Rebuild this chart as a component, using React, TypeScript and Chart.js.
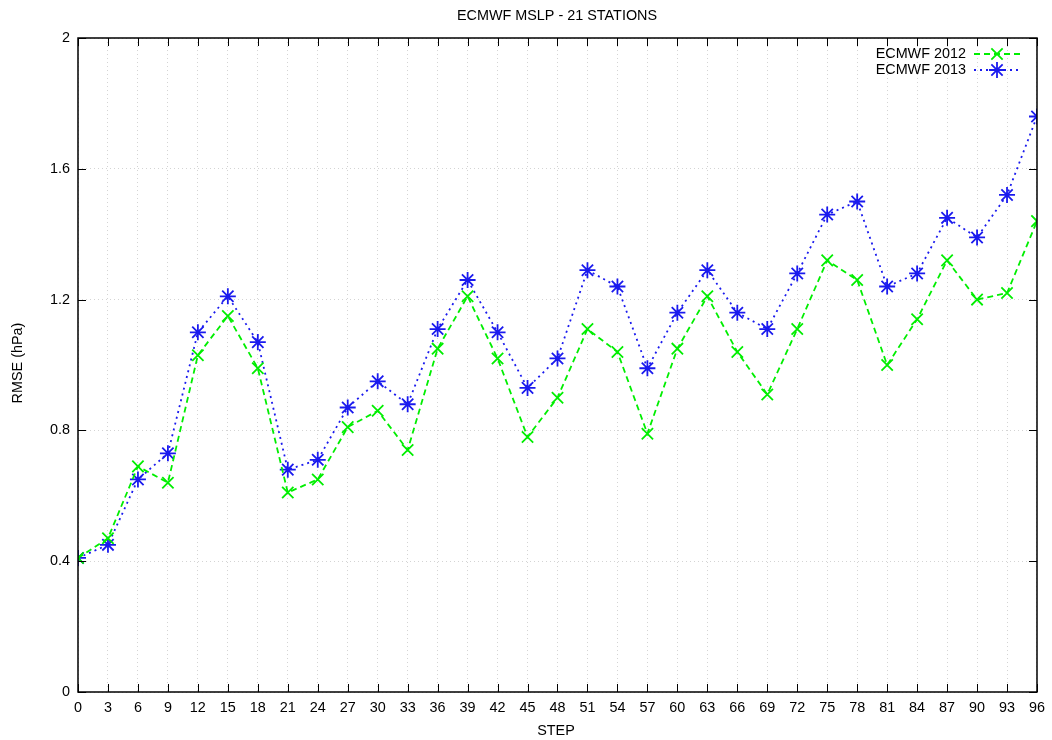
import React, { useEffect, useRef } from "react";
import { Chart, registerables } from "chart.js";

Chart.register(...registerables);

const steps = [0, 3, 6, 9, 12, 15, 18, 21, 24, 27, 30, 33, 36, 39, 42, 45, 48, 51, 54, 57, 60, 63, 66, 69, 72, 75, 78, 81, 84, 87, 90, 93, 96];
const ecmwf2012 = [0.41, 0.47, 0.69, 0.64, 1.03, 1.15, 0.99, 0.61, 0.65, 0.81, 0.86, 0.74, 1.05, 1.21, 1.02, 0.78, 0.90, 1.11, 1.04, 0.79, 1.05, 1.21, 1.04, 0.91, 1.11, 1.32, 1.26, 1.00, 1.14, 1.32, 1.20, 1.22, 1.44];
const ecmwf2013 = [0.41, 0.45, 0.65, 0.73, 1.10, 1.21, 1.07, 0.68, 0.71, 0.87, 0.95, 0.88, 1.11, 1.26, 1.10, 0.93, 1.02, 1.29, 1.24, 0.99, 1.16, 1.29, 1.16, 1.11, 1.28, 1.46, 1.50, 1.24, 1.28, 1.45, 1.39, 1.52, 1.76];
const yTicks = [0, 0.4, 0.8, 1.2, 1.6, 2];
const titleText = "ECMWF MSLP - 21 STATIONS";
const xTitle = "STEP";
const yTitle = "RMSE (hPa)";
const seriesLabels = ["ECMWF 2012", "ECMWF 2013"];

const FONT = "'Liberation Sans', Arial, sans-serif";
const FS = 14.4;

const framePlugin = {
  id: "frame",
  afterDraw(chart: any) {
    const { ctx, chartArea: a, scales } = chart;
    const xs = scales.x;
    const ys = scales.y;
    ctx.save();
    ctx.strokeStyle = "#000";
    ctx.lineWidth = 1.5;
    ctx.setLineDash([]);
    ctx.strokeRect(a.left, a.top, a.right - a.left, a.bottom - a.top);
    ctx.lineWidth = 1;
    const tl = 8;
    ctx.beginPath();
    steps.forEach((s) => {
      const px = Math.round(xs.getPixelForValue(s)) + 0.5;
      ctx.moveTo(px, a.bottom);
      ctx.lineTo(px, a.bottom - tl);
      ctx.moveTo(px, a.top);
      ctx.lineTo(px, a.top + tl);
    });
    yTicks.forEach((v) => {
      const py = Math.round(ys.getPixelForValue(v)) + 0.5;
      ctx.moveTo(a.left, py);
      ctx.lineTo(a.left + tl, py);
      ctx.moveTo(a.right, py);
      ctx.lineTo(a.right - tl, py);
    });
    ctx.stroke();

    ctx.fillStyle = "#000";
    ctx.font = `${FS}px ${FONT}`;
    ctx.textAlign = "center";
    ctx.textBaseline = "middle";
    ctx.fillText(titleText, 557, 16);
    ctx.fillText(xTitle, 556, 731);
    ctx.save();
    ctx.translate(18, 363);
    ctx.rotate(-Math.PI / 2);
    ctx.fillText(yTitle, 0, 0);
    ctx.restore();

    const ds = chart.data.datasets;
    const rows = [54, 70];
    ds.forEach((d: any, i: number) => {
      const y = rows[i];
      ctx.fillStyle = "#000";
      ctx.textAlign = "right";
      ctx.font = `${FS}px ${FONT}`;
      ctx.fillText(d.label, 966, y);
      ctx.strokeStyle = d.borderColor;
      ctx.lineWidth = d.borderWidth;
      ctx.setLineDash(d.borderDash);
      ctx.beginPath();
      ctx.moveTo(974, y);
      ctx.lineTo(1020, y);
      ctx.stroke();
      ctx.setLineDash([]);
      ctx.lineWidth = d.pointBorderWidth;
      const r = 8;
      ctx.beginPath();
      const dd = r * Math.SQRT1_2;
      ctx.moveTo(997 - dd, y - dd);
      ctx.lineTo(997 + dd, y + dd);
      ctx.moveTo(997 - dd, y + dd);
      ctx.lineTo(997 + dd, y - dd);
      if (d.pointStyle === "star") {
        ctx.moveTo(997 - r, y);
        ctx.lineTo(997 + r, y);
        ctx.moveTo(997, y - r);
        ctx.lineTo(997, y + r);
      }
      ctx.stroke();
    });
    ctx.restore();
  },
};

export default function App() {
  const ref = useRef<HTMLCanvasElement | null>(null);
  useEffect(() => {
    document.body.style.margin = "0";
    const canvas = ref.current!;
    const chart = new Chart(canvas, {
      type: "line",
      data: {
        datasets: [
          {
            label: seriesLabels[0],
            data: steps.map((s, i) => ({ x: s, y: ecmwf2012[i] })),
            borderColor: "#00ee00",
            backgroundColor: "#00ee00",
            borderWidth: 1.8,
            borderDash: [6, 4],
            pointStyle: "crossRot",
            pointRadius: 8,
            pointBorderWidth: 1.8,
            pointBorderColor: "#00ee00",
            fill: false,
            tension: 0,
          },
          {
            label: seriesLabels[1],
            data: steps.map((s, i) => ({ x: s, y: ecmwf2013[i] })),
            borderColor: "#1a1aee",
            backgroundColor: "#1a1aee",
            borderWidth: 1.8,
            borderDash: [2, 4],
            pointStyle: "star",
            pointRadius: 8,
            pointBorderWidth: 1.8,
            pointBorderColor: "#1a1aee",
            fill: false,
            tension: 0,
          },
        ] as any,
      },
      options: {
        animation: false,
        responsive: false,
        maintainAspectRatio: false,
        layout: { padding: { left: 0, top: 38, right: 12, bottom: 0 } },
        plugins: {
          legend: { display: false },
          title: { display: false },
          tooltip: { enabled: false },
        },
        scales: {
          x: {
            type: "linear",
            min: 0,
            max: 96,
            afterBuildTicks: (scale: any) => {
              scale.ticks = steps.map((v) => ({ value: v }));
            },
            afterFit: (scale: any) => {
              scale.height = 48;
            },
            ticks: {
              color: "#000",
              font: { family: FONT, size: FS },
              padding: 7,
              maxRotation: 0,
              autoSkip: false,
              callback: (v: any) => String(v),
            },
            grid: { color: "#d4d4d4", drawTicks: false, lineWidth: 1 },
            border: { display: false, dash: [1, 3] },
          },
          y: {
            type: "linear",
            min: 0,
            max: 2,
            afterBuildTicks: (scale: any) => {
              scale.ticks = yTicks.map((v) => ({ value: v }));
            },
            afterFit: (scale: any) => {
              scale.width = 78;
            },
            ticks: {
              color: "#000",
              font: { family: FONT, size: FS },
              padding: 8,
              callback: (v: any) => String(Math.round(v * 10) / 10),
            },
            grid: { color: "#d4d4d4", drawTicks: false, lineWidth: 1 },
            border: { display: false, dash: [1, 3] },
          },
        },
      } as any,
      plugins: [framePlugin],
    });
    return () => chart.destroy();
  }, []);
  return (
    <div style={{ position: "absolute", left: 0, top: 0, width: 1052, height: 740, background: "#fff" }}>
      <canvas ref={ref} width={1052} height={740} style={{ width: 1052, height: 740 }} />
    </div>
  );
}
